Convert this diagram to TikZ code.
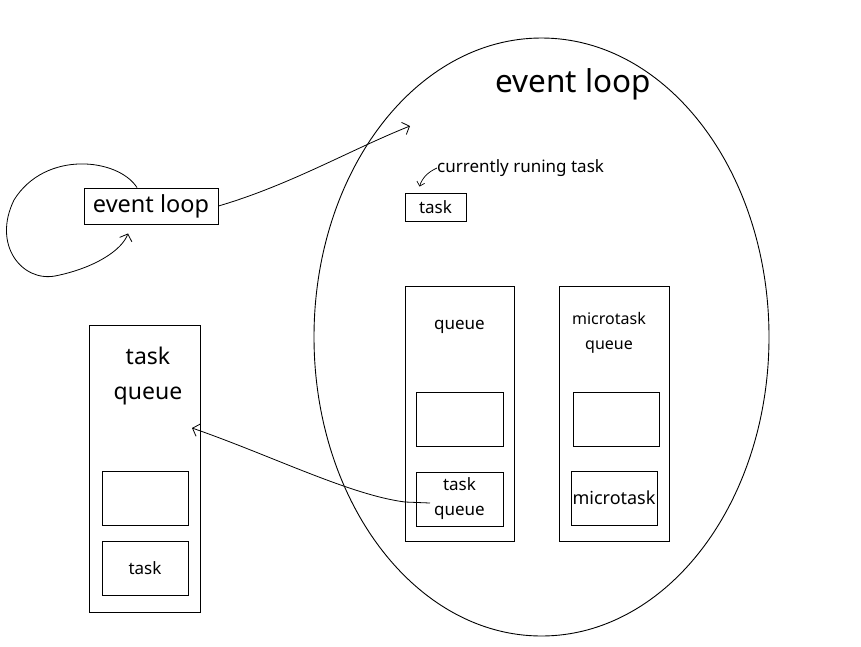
\documentclass[tikz,border=0pt]{standalone}
\usepackage{fontspec}
\setmainfont{Noto Sans}
\usetikzlibrary{arrows.meta,shapes.geometric}
\tikzset{
  colbox/.style={draw,rectangle,line width=0.9pt,inner sep=0pt,minimum width=110pt,minimum height=255pt},
  itembox/.style={draw,rectangle,line width=0.9pt,inner sep=0pt,minimum width=86pt,minimum height=54pt,align=center,font=\fontsize{17}{25}\selectfont},
  lbl/.style={align=center,inner sep=0pt,font=\fontsize{17}{25}\selectfont},
  arr/.style={-{Straight Barb[length=6pt,width=13pt]},line width=0.8pt}
}

\begin{document}
\begin{tikzpicture}[x=1pt,y=-1pt]
\useasboundingbox (0,0) rectangle (861,646);
% the big event loop
\node[draw,ellipse,line width=0.9pt,minimum width=455pt,minimum height=598pt] (loopell) at (541.5,337) {};
\node[inner sep=0pt,font=\fontsize{31.5}{36}\selectfont] (looptitle) at (573,84) {event loop};
\node[lbl,anchor=west] (curtxt) at (437,168) {currently runing task};
\node[draw,rectangle,line width=0.9pt,inner sep=0pt,minimum width=61pt,minimum height=28pt,font=\fontsize{17}{21}\selectfont] (curtask) at (435.5,207) {task};
% queue column
\node[colbox,minimum width=109pt] (qcol) at (459.5,413.5) {};
\node[lbl] (qtxt) at (459.5,327) {queue};
\node[itembox,minimum width=87pt] (qempty) at (459.5,419) {};
\node[itembox,minimum width=87pt] (qtask) at (459.5,499) {task\\queue};
% microtask column
\node[colbox] (mcol) at (614,413.5) {};
\node[lbl,font=\fontsize{16}{25}\selectfont] (mtxt) at (609,333) {microtask\\queue};
\node[itembox] (mempty) at (616,419) {};
\node[itembox,font=\fontsize{18}{22}\selectfont] (mtask) at (614,498) {microtask};
% task queue column on the left
\node[colbox,minimum width=111pt,minimum height=287pt] (tcol) at (144.5,468.5) {};
\node[lbl,font=\fontsize{23}{35}\selectfont] (ttxt) at (148,376) {task\\queue};
\node[itembox] (tempty) at (145,498) {};
\node[itembox] (ttask) at (145,568) {task};
% small event loop box
\node[draw,rectangle,line width=0.9pt,inner sep=0pt,minimum width=134pt,minimum height=36pt,font=\fontsize{23.5}{27}\selectfont] (evbox) at (151,206) {event loop};
\coordinate (evin) at (410,126);
\coordinate (tqout) at (430,503);
\coordinate (tqin) at (192,428);
% connectors
\draw[arr] ([xshift=-14pt]evbox.north) .. controls (118,158) and (45,150) .. (14,200)
  .. controls (-8,245) and (22,282) .. (55,276) .. controls (95,268) and (122,250) .. ([xshift=-23pt,yshift=-9pt]evbox.south);
\draw[arr] (evbox.east) .. controls (290,185) and (350,150) .. (evin);
\draw[arr] (tqout) -- (405,502) .. controls (350,495) and (270,455) .. (tqin);
\draw[-{Straight Barb[length=4pt,width=8pt]},line width=0.7pt] (curtxt.west) .. controls (428,172) and (422,178) .. ([xshift=15pt,yshift=6pt]curtask.north west);
\end{tikzpicture}
\end{document}
